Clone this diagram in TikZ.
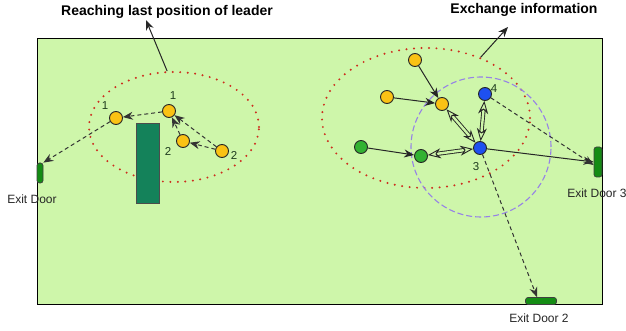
\documentclass[tikz,border=0pt]{standalone}
\usepackage{fontspec}
\setmainfont{Liberation Sans}
\usetikzlibrary{arrows.meta,shapes.geometric}
\definecolor{bgreen}{RGB}{206,246,170}
\definecolor{pyellow}{RGB}{250,194,20}
\definecolor{pblue}{RGB}{30,80,240}
\definecolor{pgreen}{RGB}{50,178,50}
\definecolor{doorgreen}{RGB}{20,140,20}
\definecolor{obst}{RGB}{20,130,90}
\definecolor{reddot}{RGB}{205,45,30}
\definecolor{lav}{RGB}{150,130,230}
\definecolor{numcol}{RGB}{30,60,30}
\tikzset{
  person/.style={circle,draw=black!85,line width=0.9pt,minimum size=13pt,inner sep=0pt},
  yel/.style={person,fill=pyellow},
  blu/.style={person,fill=pblue},
  grn/.style={person,fill=pgreen},
  door/.style={draw=black!75,fill=doorgreen,rounded corners=2.5pt,inner sep=0pt,line width=0.7pt},
  lbl/.style={font=\fontsize{12}{12}\selectfont,text=black!85,inner sep=0pt},
  ttl/.style={font=\fontsize{14}{14}\selectfont\bfseries,inner sep=0pt},
  num/.style={font=\fontsize{11.5}{11.5}\selectfont,text=numcol,inner sep=0pt},
  dasharrow/.style={dashed,dash pattern=on 4pt off 3pt,line width=1pt,black!80,-{Stealth[length=10pt,width=8pt]}},
  solarrow/.style={line width=1pt,black!85,-{Stealth[length=10pt,width=8pt]}},
  dblarrow/.style={double=bgreen,double distance=2.4pt,line width=0.9pt,black!85,{Stealth[open,length=13pt,width=10pt,line width=0.9pt]}-{Stealth[open,length=13pt,width=10pt,line width=0.9pt]}},
  redell/.style={ellipse,draw=reddot,line width=2.2pt,dash pattern=on 0pt off 7.5pt,line cap=round,inner sep=0pt},
}
\begin{document}
\begin{tikzpicture}[x=1pt,y=-1pt]
\useasboundingbox (0,0) rectangle (626,331);
\fill[white] (0,0) rectangle (626,331);
\draw[fill=bgreen,line width=0.9pt] (37,38) rectangle (602,304);

% ellipses
\node[redell,minimum width=170pt,minimum height=110pt] (ell1) at (174,127) {};
\node[redell,minimum width=208pt,minimum height=140pt] (ell2) at (426,118) {};
\node[circle,draw=lav,line width=1.1pt,dash pattern=on 6pt off 3pt,minimum size=140pt,inner sep=0pt] (zone) at (481,147) {};

% titles
\node[ttl] (t1) at (167,12) {Reaching last position of leader};
\node[ttl] (t2) at (524,10) {Exchange information};
\coordinate (t1tip) at (146,20);
\coordinate (t2tip) at (508,27);
\draw[solarrow] (ell1.97) -- (t1tip);
\draw[solarrow] (ell2.48) -- (t2tip);

% obstacle
\node[draw=black!70,fill=obst,minimum width=23pt,minimum height=80pt,inner sep=0pt,line width=0.7pt] (obs) at (147.5,163) {};

% doors
\node[door,minimum width=6pt,minimum height=20pt] (doorL) at (40,173) {};
\node[door,minimum width=8pt,minimum height=30pt] (door3) at (598,162) {};
\node[door,minimum width=31pt,minimum height=7pt] (door2) at (541,301) {};
\node[lbl] (ldL) at (32,199) {Exit Door};
\node[lbl] (ld3) at (597,193) {Exit Door 3};
\node[lbl] (ld2) at (539,318) {Exit Door 2};

% left group
\node[yel] (A1) at (116,118) {};
\node[yel] (B1) at (169,111) {};
\node[yel] (C2) at (183,141) {};
\node[yel] (D2) at (222,151) {};
\node[num] (nA1) at (105,106) {1};
\node[num] (nB1) at (173,96) {1};
\node[num] (nC2) at (168,151) {2};
\node[num] (nD2) at (234,155) {2};
\draw[dasharrow] (B1) -- (A1);
\draw[dasharrow] (D2) -- (B1);
\draw[dasharrow] (C2) -- (B1);
\draw[dasharrow] (D2) -- (C2);
\draw[dasharrow] (A1) -- (doorL.north east);

% right group
\node[yel] (Y1) at (415,60) {};
\node[yel] (Y2) at (387,97) {};
\node[yel] (Y3) at (442,104) {};
\node[blu] (B4) at (485,94) {};
\node[blu] (B3) at (480,148) {};
\node[grn] (G1) at (361,147) {};
\node[grn] (G2) at (421,156) {};
\node[num] (n4) at (494,89) {4};
\node[num] (n3) at (476,167) {3};
\draw[solarrow] (Y1) -- (Y3);
\draw[solarrow] (Y2) -- (Y3);
\draw[solarrow] (G1) -- (G2);
\draw[dblarrow] (Y3) -- (B3);
\draw[dblarrow] (B4) -- (B3);
\draw[dblarrow] (G2) -- (B3);
\draw[solarrow] (B3) -- (door3.west);
\draw[dasharrow] (B4) -- ([yshift=-3pt]door3.west);
\draw[dasharrow] (B3) -- ([xshift=-4pt]door2.north);
\end{tikzpicture}
\end{document}
